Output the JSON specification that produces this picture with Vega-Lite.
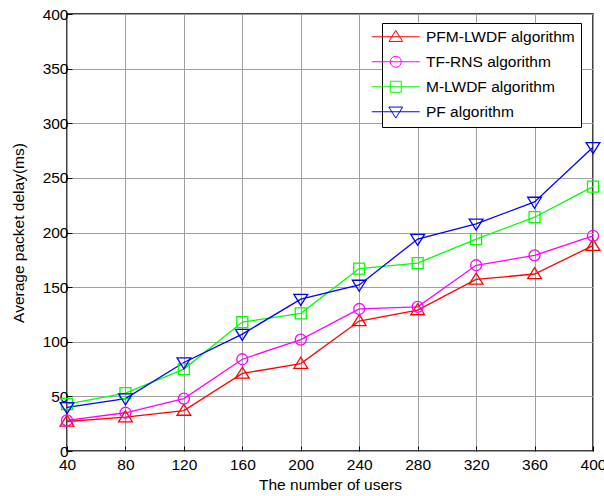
{
  "$schema": "https://vega.github.io/schema/vega-lite/v6.json",
  "autosize": "none",
  "width": 526,
  "height": 437,
  "padding": {"left": 67, "top": 14, "right": 11, "bottom": 45},
  "background": "white",
  "data": {
    "values": [
      {"users": 40, "delay": 27, "algorithm": "PFM-LWDF algorithm"},
      {"users": 80, "delay": 31, "algorithm": "PFM-LWDF algorithm"},
      {"users": 120, "delay": 37, "algorithm": "PFM-LWDF algorithm"},
      {"users": 160, "delay": 71, "algorithm": "PFM-LWDF algorithm"},
      {"users": 200, "delay": 80, "algorithm": "PFM-LWDF algorithm"},
      {"users": 240, "delay": 119, "algorithm": "PFM-LWDF algorithm"},
      {"users": 280, "delay": 129, "algorithm": "PFM-LWDF algorithm"},
      {"users": 320, "delay": 157, "algorithm": "PFM-LWDF algorithm"},
      {"users": 360, "delay": 162, "algorithm": "PFM-LWDF algorithm"},
      {"users": 400, "delay": 188, "algorithm": "PFM-LWDF algorithm"},
      {"users": 40, "delay": 28, "algorithm": "TF-RNS algorithm"},
      {"users": 80, "delay": 35, "algorithm": "TF-RNS algorithm"},
      {"users": 120, "delay": 48, "algorithm": "TF-RNS algorithm"},
      {"users": 160, "delay": 84, "algorithm": "TF-RNS algorithm"},
      {"users": 200, "delay": 102, "algorithm": "TF-RNS algorithm"},
      {"users": 240, "delay": 130, "algorithm": "TF-RNS algorithm"},
      {"users": 280, "delay": 132, "algorithm": "TF-RNS algorithm"},
      {"users": 320, "delay": 170, "algorithm": "TF-RNS algorithm"},
      {"users": 360, "delay": 179, "algorithm": "TF-RNS algorithm"},
      {"users": 400, "delay": 197, "algorithm": "TF-RNS algorithm"},
      {"users": 40, "delay": 43, "algorithm": "M-LWDF algorithm"},
      {"users": 80, "delay": 53, "algorithm": "M-LWDF algorithm"},
      {"users": 120, "delay": 75, "algorithm": "M-LWDF algorithm"},
      {"users": 160, "delay": 118, "algorithm": "M-LWDF algorithm"},
      {"users": 200, "delay": 126, "algorithm": "M-LWDF algorithm"},
      {"users": 240, "delay": 167, "algorithm": "M-LWDF algorithm"},
      {"users": 280, "delay": 172, "algorithm": "M-LWDF algorithm"},
      {"users": 320, "delay": 194, "algorithm": "M-LWDF algorithm"},
      {"users": 360, "delay": 214, "algorithm": "M-LWDF algorithm"},
      {"users": 400, "delay": 242, "algorithm": "M-LWDF algorithm"},
      {"users": 40, "delay": 40, "algorithm": "PF algorithm"},
      {"users": 80, "delay": 48, "algorithm": "PF algorithm"},
      {"users": 120, "delay": 81, "algorithm": "PF algorithm"},
      {"users": 160, "delay": 107, "algorithm": "PF algorithm"},
      {"users": 200, "delay": 139, "algorithm": "PF algorithm"},
      {"users": 240, "delay": 152, "algorithm": "PF algorithm"},
      {"users": 280, "delay": 194, "algorithm": "PF algorithm"},
      {"users": 320, "delay": 208, "algorithm": "PF algorithm"},
      {"users": 360, "delay": 228, "algorithm": "PF algorithm"},
      {"users": 400, "delay": 278, "algorithm": "PF algorithm"}
    ]
  },
  "encoding": {
    "x": {
      "field": "users",
      "type": "quantitative",
      "scale": {"domain": [40, 400], "nice": false, "zero": false},
      "axis": {
        "title": "The number of users",
        "values": [40, 80, 120, 160, 200, 240, 280, 320, 360, 400],
        "titlePadding": 5,
        "labelPadding": 11
      }
    },
    "y": {
      "field": "delay",
      "type": "quantitative",
      "scale": {"domain": [0, 400], "nice": false},
      "axis": {
        "title": "Average packet delay(ms)",
        "values": [0, 50, 100, 150, 200, 250, 300, 350, 400],
        "titlePadding": 16,
        "labelPadding": 4
      }
    },
    "color": {
      "field": "algorithm",
      "type": "nominal",
      "scale": {
        "domain": ["PFM-LWDF algorithm", "TF-RNS algorithm", "M-LWDF algorithm", "PF algorithm"],
        "range": ["#ff0000", "#ff00ff", "#00ff00", "#0000ff"]
      },
      "legend": {
        "title": null,
        "orient": "none",
        "legendX": 315,
        "legendY": 9,
        "padding": 6,
        "strokeColor": "black",
        "fillColor": "white",
        "labelFont": "Liberation Sans",
        "labelFontSize": 15.5,
        "labelColor": "black",
        "labelOffset": 22.5,
        "rowPadding": 8,
        "symbolSize": 121,
        "symbolStrokeWidth": 1,
        "symbolOpacity": 1
      }
    }
  },
  "layer": [
    {
      "mark": {"type": "point", "filled": false, "size": 121, "strokeWidth": 1, "opacity": 0},
      "encoding": {
        "shape": {
          "field": "algorithm",
          "type": "nominal",
          "scale": {
            "domain": ["PFM-LWDF algorithm", "TF-RNS algorithm", "M-LWDF algorithm", "PF algorithm"],
            "range": [
              "M-4.36,0H4.36M0,-1.15L1.25,0.85L-1.25,0.85Z",
              "M-4.36,0H4.36M1,0A1,1,0,1,1,-1,0A1,1,0,1,1,1,0Z",
              "M-4.36,0H4.36M-1,-1H1V1H-1Z",
              "M-4.36,0H4.36M0,1.15L1.25,-0.85L-1.25,-0.85Z"
            ]
          },
          "legend": {
            "title": null,
            "orient": "none",
            "legendX": 315,
            "legendY": 9,
            "padding": 6,
            "strokeColor": "black",
            "fillColor": "white",
            "labelFont": "Liberation Sans",
            "labelFontSize": 15.5,
            "labelColor": "black",
            "labelOffset": 22.5,
            "rowPadding": 8,
            "symbolSize": 121,
            "symbolStrokeWidth": 1,
            "symbolOpacity": 1
          }
        }
      }
    },
    {
      "mark": {"type": "line", "strokeWidth": 1.3}
    },
    {
      "transform": [{"filter": "datum.algorithm === 'PFM-LWDF algorithm'"}],
      "mark": {"type": "point", "filled": false, "size": 121, "strokeWidth": 1.3, "opacity": 1, "shape": "M0,-1.15L1.25,0.85L-1.25,0.85Z"}
    },
    {
      "transform": [{"filter": "datum.algorithm === 'TF-RNS algorithm'"}],
      "mark": {"type": "point", "filled": false, "size": 121, "strokeWidth": 1.3, "opacity": 1, "shape": "circle"}
    },
    {
      "transform": [{"filter": "datum.algorithm === 'M-LWDF algorithm'"}],
      "mark": {"type": "point", "filled": false, "size": 121, "strokeWidth": 1.3, "opacity": 1, "shape": "square"}
    },
    {
      "transform": [{"filter": "datum.algorithm === 'PF algorithm'"}],
      "mark": {"type": "point", "filled": false, "size": 121, "strokeWidth": 1.3, "opacity": 1, "shape": "M0,1.15L1.25,-0.85L-1.25,-0.85Z"}
    }
  ],
  "config": {
    "font": "Liberation Sans",
    "view": {"stroke": "black", "strokeWidth": 1.5},
    "axis": {
      "domain": false,
      "grid": true,
      "gridColor": "#a0a0a0",
      "gridWidth": 1,
      "gridOpacity": 1,
      "ticks": true,
      "tickSize": -5,
      "tickColor": "black",
      "tickWidth": 1,
      "labelFont": "Liberation Sans",
      "labelFontSize": 15.5,
      "labelColor": "black",
      "titleFont": "Liberation Sans",
      "titleFontSize": 15.5,
      "titleFontWeight": "normal",
      "titleColor": "black",
      "labelFlush": false,
      "labelOverlap": false
    }
  }
}
